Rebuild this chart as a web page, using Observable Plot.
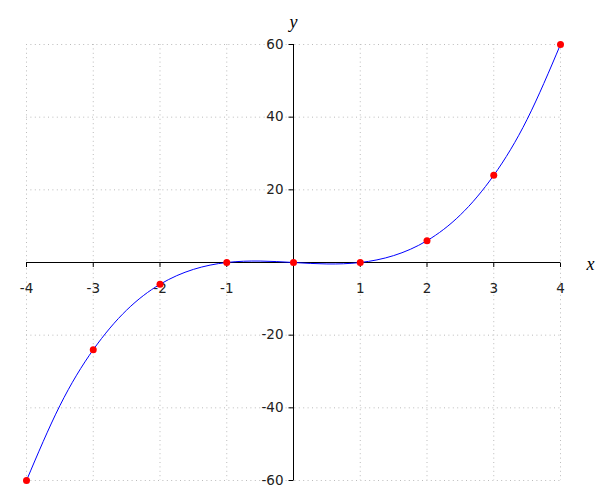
<!DOCTYPE html>
<html>
<head>
<meta charset="utf-8">
<script src="https://cdn.jsdelivr.net/npm/d3@7"></script>
<script src="https://cdn.jsdelivr.net/npm/@observablehq/plot@0.6"></script>
<style>
  body { margin: 0; background: #fff; }
</style>
</head>
<body>
<div id="chart"></div>
<script>
// sample points (red dots)
const pointX = [-4, -3, -2, -1, 0, 1, 2, 3, 4];
const pointY = [-60, -24, -6, 0, 0, 0, 6, 24, 60];
// curve values at half steps
const curveX = [-4, -3.5, -3, -2.5, -2, -1.5, -1, -0.5, 0, 0.5, 1, 1.5, 2, 2.5, 3, 3.5, 4];
const curveY = [-60, -39.4, -24, -13.1, -6, -1.9, 0, 0.4, 0, -0.4, 0, 1.9, 6, 13.1, 24, 39.4, 60];
// tick labels
const xTicks = [-4, -3, -2, -1, 1, 2, 3, 4];
const yTicks = [-60, -40, -20, 20, 40, 60];
const xGrid = [-4, -3, -2, -1, 0, 1, 2, 3, 4];
const yGrid = [-60, -40, -20, 0, 20, 40, 60];

const points = pointX.map((x, i) => ({x, y: pointY[i]}));
const curve = curveX.map((x, i) => ({x, y: curveY[i]}));

const vTick = {draw(ctx) { ctx.moveTo(0, 0); ctx.lineTo(0, 4.5); }};
const hTick = {draw(ctx) { ctx.moveTo(0, 0); ctx.lineTo(-5, 0); }};

const chart = Plot.plot({
  width: 600,
  height: 500,
  marginLeft: 26,
  marginRight: 40,
  marginTop: 44,
  marginBottom: 20,
  style: {fontFamily: "DejaVu Sans", fontSize: "13.5px", background: "#fff", overflow: "visible"},
  x: {domain: [-4, 4], axis: null},
  y: {domain: [-60, 60], axis: null},
  marks: [
    Plot.ruleX(xGrid, {stroke: "#bbb", strokeDasharray: "1,3.4", strokeWidth: 1}),
    Plot.ruleY(yGrid, {stroke: "#bbb", strokeDasharray: "1,3.4", strokeWidth: 1}),
    Plot.ruleY([0], {stroke: "#000", strokeWidth: 1}),
    Plot.ruleX([0], {stroke: "#000", strokeWidth: 1}),
    Plot.dot(xTicks, {x: d => d, y: 0, symbol: vTick, fill: "none", stroke: "#000", strokeWidth: 1}),
    Plot.dot(yTicks, {x: 0, y: d => d, symbol: hTick, fill: "none", stroke: "#000", strokeWidth: 1}),
    Plot.text(xTicks, {x: d => d, y: 0, text: d => String(d), dy: 26, fill: "#222", fontSize: 13.5}),
    Plot.text(yTicks, {x: 0, y: d => d, text: d => String(d), dx: -10, textAnchor: "end", fill: "#222", fontSize: 13.5}),
    Plot.line(curve, {x: "x", y: "y", curve: "natural", stroke: "blue", strokeWidth: 1}),
    Plot.dot(points, {x: "x", y: "y", r: 3.5, fill: "red", stroke: "none"}),
    Plot.text(["y"], {x: 0, frameAnchor: "top", lineAnchor: "middle", dy: -22, text: d => d, fontFamily: "Liberation Serif", fontStyle: "italic", fontSize: 18, fill: "#000"}),
    Plot.text(["x"], {x: 4, y: 0, dx: 30, dy: 2, text: d => d, fontFamily: "Liberation Serif", fontStyle: "italic", fontSize: 18, fill: "#000"})
  ]
});
document.getElementById("chart").appendChild(chart);
</script>
</body>
</html>
